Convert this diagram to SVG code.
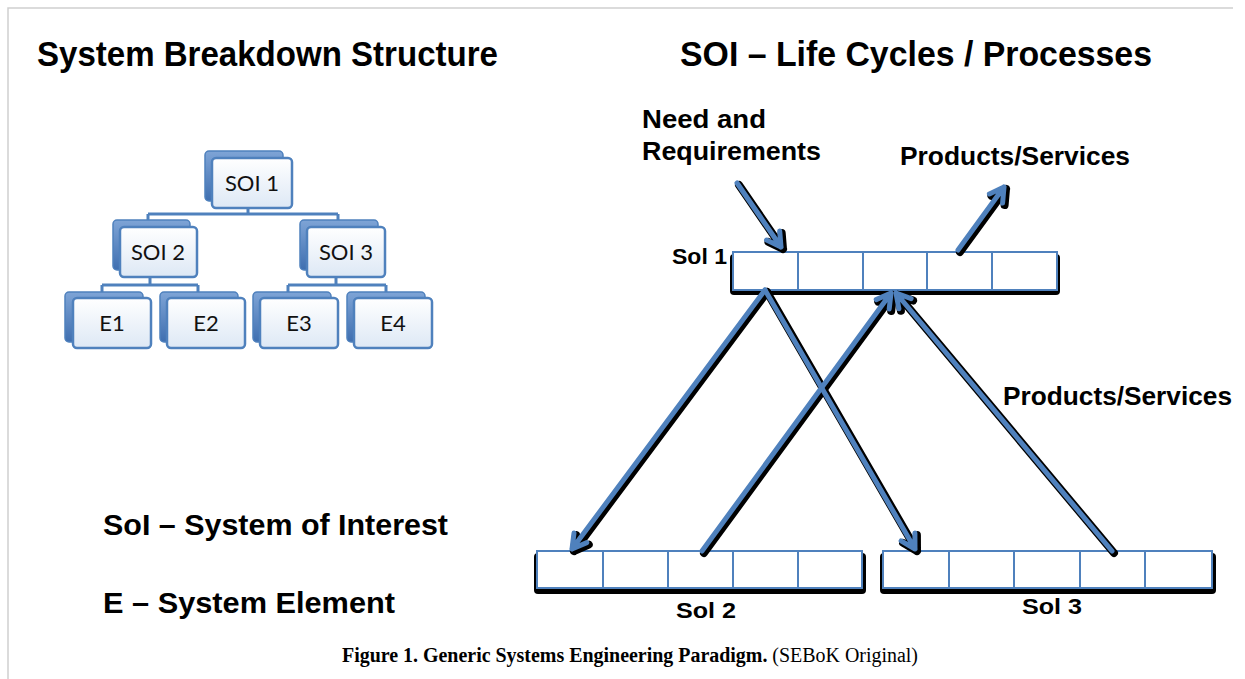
<svg xmlns="http://www.w3.org/2000/svg" xmlns:xlink="http://www.w3.org/1999/xlink" width="1245" height="679" viewBox="0 0 1245 679">
<style>
.title{font-family:"Liberation Sans",Arial,sans-serif;font-weight:bold;fill:#000}
.tree{font-family:Lato,"Open Sans",sans-serif;font-size:22px;fill:#111;text-anchor:middle}
.back{fill:url(#gBack);stroke:#4f81bd;stroke-width:1.5}
.front{fill:url(#gFront);stroke:#4f81bd;stroke-width:2.5}
.tline{fill:none;stroke:#4f81bd;stroke-width:3}
.cell{fill:#fff;stroke:#4f81bd;stroke-width:2}
.shadow{fill:#000}
.cap{font-family:"Liberation Serif","Times New Roman",serif;font-size:20px;fill:#000}
</style>
<defs>
<linearGradient id="gBack" x1="0" y1="0" x2="0" y2="1">
<stop offset="0" stop-color="#7ea4d6"/><stop offset="1" stop-color="#3f6fb0"/>
</linearGradient>
<linearGradient id="gFront" x1="0" y1="0" x2="0" y2="1">
<stop offset="0" stop-color="#ffffff"/><stop offset="1" stop-color="#dde8f5"/>
</linearGradient>
<g id="arrowset" fill="none" stroke-linecap="round" stroke-linejoin="round">
<path d="M737,183 L781,247 M766.5,240 L781,247 L779.7,231"/>
<path d="M958,250 L1004,187 M1002.6,203.1 L1004,187 L989.4,193.9"/>
<path d="M765,290 L572,549 M574,533 L572,549 L586.8,542.6"/>
<path d="M765,290 L915,549 M901.1,540.9 L915,549 L914.9,532.9"/>
<path d="M702,551 L891,293 M889.2,309 L891,293 L876.2,299.6"/>
<path d="M1112,551 L896,293 M911.1,298.6 L896,293 L898.9,308.8"/>
</g>
</defs>
<rect x="0" y="0" width="1245" height="679" fill="#fff"/>
<path d="M8,679 V8 H1233" fill="none" stroke="#cfcfcf" stroke-width="1.5"/>

<text class="title" x="37" y="66" font-size="35" textLength="461" lengthAdjust="spacingAndGlyphs">System Breakdown Structure</text>
<text class="title" x="680" y="66" font-size="35" textLength="472" lengthAdjust="spacingAndGlyphs">SOI – Life Cycles / Processes</text>

<g id="tree-connectors">
<path class="tline" d="M248,208 V214 M148,214 H338 M148,214 V221 M338,214 V221"/>
<path class="tline" d="M150,277 V285 M102,285 H198 M102,285 V293 M198,285 V293"/>
<path class="tline" d="M336,277 V285 M288,285 H386 M288,285 V293 M386,285 V293"/>
</g>
<g id="soi1"><rect class="back" x="205" y="151" width="78" height="50" rx="4"/><rect class="front" x="212" y="158" width="80" height="50" rx="4"/><text class="tree" x="252" y="191">SOI 1</text></g>
<g id="soi2"><rect class="back" x="113" y="220" width="77" height="50" rx="4"/><rect class="front" x="120" y="227" width="77" height="50" rx="4"/><text class="tree" x="158" y="260">SOI 2</text></g>
<g id="soi3"><rect class="back" x="300" y="220" width="78" height="50" rx="4"/><rect class="front" x="307" y="227" width="78" height="50" rx="4"/><text class="tree" x="346" y="260">SOI 3</text></g>
<g id="e1"><rect class="back" x="65" y="292" width="78" height="50" rx="4"/><rect class="front" x="73" y="298" width="78" height="50" rx="4"/><text class="tree" x="112" y="331">E1</text></g>
<g id="e2"><rect class="back" x="160" y="292" width="78" height="50" rx="4"/><rect class="front" x="167" y="298" width="78" height="50" rx="4"/><text class="tree" x="206" y="331">E2</text></g>
<g id="e3"><rect class="back" x="253" y="292" width="78" height="50" rx="4"/><rect class="front" x="260" y="298" width="78" height="50" rx="4"/><text class="tree" x="299" y="331">E3</text></g>
<g id="e4"><rect class="back" x="347" y="292" width="78" height="50" rx="4"/><rect class="front" x="354" y="298" width="78" height="50" rx="4"/><text class="tree" x="393" y="331">E4</text></g>

<g id="sol1">
<rect class="shadow" x="730" y="254" width="330" height="41" rx="4"/>
<rect class="cell" x="733" y="252" width="65" height="38"/><rect class="cell" x="798" y="252" width="65" height="38"/><rect class="cell" x="863" y="252" width="64" height="38"/><rect class="cell" x="927" y="252" width="65" height="38"/><rect class="cell" x="992" y="252" width="65" height="38"/>
<text class="title" x="672" y="264" font-size="22" textLength="55" lengthAdjust="spacingAndGlyphs">Sol 1</text>
</g>
<g id="sol2">
<rect class="shadow" x="534" y="553" width="332" height="41" rx="4"/>
<rect class="cell" x="537" y="551" width="66" height="37"/><rect class="cell" x="603" y="551" width="65" height="37"/><rect class="cell" x="668" y="551" width="65" height="37"/><rect class="cell" x="733" y="551" width="65" height="37"/><rect class="cell" x="798" y="551" width="64" height="37"/>
<text class="title" x="676" y="618" font-size="22" textLength="60" lengthAdjust="spacingAndGlyphs">Sol 2</text>
</g>
<g id="sol3">
<rect class="shadow" x="880" y="553" width="336" height="41" rx="4"/>
<rect class="cell" x="883" y="551" width="66" height="37"/><rect class="cell" x="949" y="551" width="65" height="37"/><rect class="cell" x="1014" y="551" width="66" height="37"/><rect class="cell" x="1080" y="551" width="65" height="37"/><rect class="cell" x="1145" y="551" width="67" height="37"/>
<text class="title" x="1022" y="614" font-size="22" textLength="60" lengthAdjust="spacingAndGlyphs">Sol 3</text>
</g>

<g id="connectors">
<use xlink:href="#arrowset" href="#arrowset" stroke="#000" stroke-width="8" transform="translate(2,2)"/>
<use xlink:href="#arrowset" href="#arrowset" stroke="#4f81bd" stroke-width="5"/>
</g>

<g id="labels">
<text class="title" x="642" y="128" font-size="26" textLength="124" lengthAdjust="spacingAndGlyphs">Need and</text>
<text class="title" x="642" y="160" font-size="26" textLength="179" lengthAdjust="spacingAndGlyphs">Requirements</text>
<text class="title" x="900" y="165" font-size="26" textLength="230" lengthAdjust="spacingAndGlyphs">Products/Services</text>
<text class="title" x="1003" y="405" font-size="26" textLength="229" lengthAdjust="spacingAndGlyphs">Products/Services</text>
<text class="title" x="103" y="535" font-size="30" textLength="345" lengthAdjust="spacingAndGlyphs">SoI – System of Interest</text>
<text class="title" x="103" y="613" font-size="30" textLength="292" lengthAdjust="spacingAndGlyphs">E – System Element</text>
</g>

<text class="cap" x="342" y="662" textLength="576" lengthAdjust="spacingAndGlyphs"><tspan font-weight="bold">Figure 1. Generic Systems Engineering Paradigm.</tspan> (SEBoK Original)</text>
</svg>
